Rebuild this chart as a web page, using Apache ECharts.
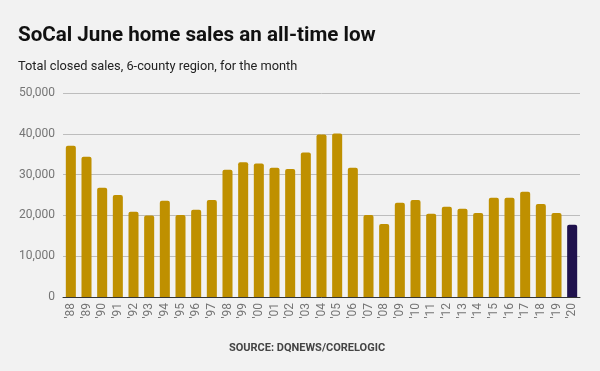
<!DOCTYPE html>
<html><head><meta charset="utf-8">
<script src="https://cdn.jsdelivr.net/npm/echarts@6/dist/echarts.min.js"></script>
<style>html,body{margin:0;padding:0;background:#f2f2f2;}#c{width:600px;height:371px;}</style>
</head><body><div id="c"></div>
<script>
var years = ["'88","'89","'90","'91","'92","'93","'94","'95","'96","'97","'98","'99","'00","'01","'02","'03","'04","'05","'06","'07","'08","'09","'10","'11","'12","'13","'14","'15","'16","'17","'18","'19","'20"];
var sales = [37100,34400,26800,25000,20900,20000,23600,20100,21400,23800,31200,33000,32700,31700,31400,35400,39800,40100,31700,20100,17900,23100,23800,20400,22100,21600,20600,24300,24300,25800,22800,20600,17700];
var yTicks = [0,10000,20000,30000,40000,50000];
var gold = '#bf9000', highlight = '#20124d';
var chart = echarts.init(document.getElementById('c'));
chart.setOption({
  backgroundColor:'#f2f2f2',
  animation:false,
  title:[
    {text:'SoCal June home sales an all-time low',left:13,top:20,textStyle:{fontFamily:'Roboto',fontWeight:'bold',fontSize:20.6,color:'#111'}},
    {text:'Total closed sales, 6-county region, for the month',left:13,top:55,textStyle:{fontFamily:'Roboto',fontWeight:'normal',fontSize:12.8,color:'#222'}},
    {text:'SOURCE: DQNEWS/CORELOGIC',left:302,textAlign:'center',top:338,textStyle:{fontFamily:'Roboto',fontWeight:'bold',fontSize:11,color:'#444'}}
  ],
  grid:{left:63,right:20,top:93,bottom:74},
  xAxis:{type:'category',data:years,
    axisLine:{lineStyle:{color:'#333',width:1}},axisTick:{show:false},
    axisLabel:{rotate:90,interval:0,fontFamily:'Roboto',fontSize:12,color:'#757575',margin:6}},
  yAxis:{type:'value',min:yTicks[0],max:yTicks[yTicks.length-1],interval:10000,
    axisLine:{show:false},axisTick:{show:false},
    splitLine:{lineStyle:{color:'#bdbdbd'}},
    axisLabel:{fontFamily:'Roboto',fontSize:12,color:'#757575',margin:8,
      formatter:function(v){return v.toLocaleString('en-US');}}},
  series:[{type:'bar',barCategoryGap:'36%',
    data:sales.map(function(v,i){return {value:v,itemStyle:{color:i===sales.length-1?highlight:gold}};}),
    itemStyle:{borderRadius:[2,2,0,0]}}]
});
</script></body></html>
